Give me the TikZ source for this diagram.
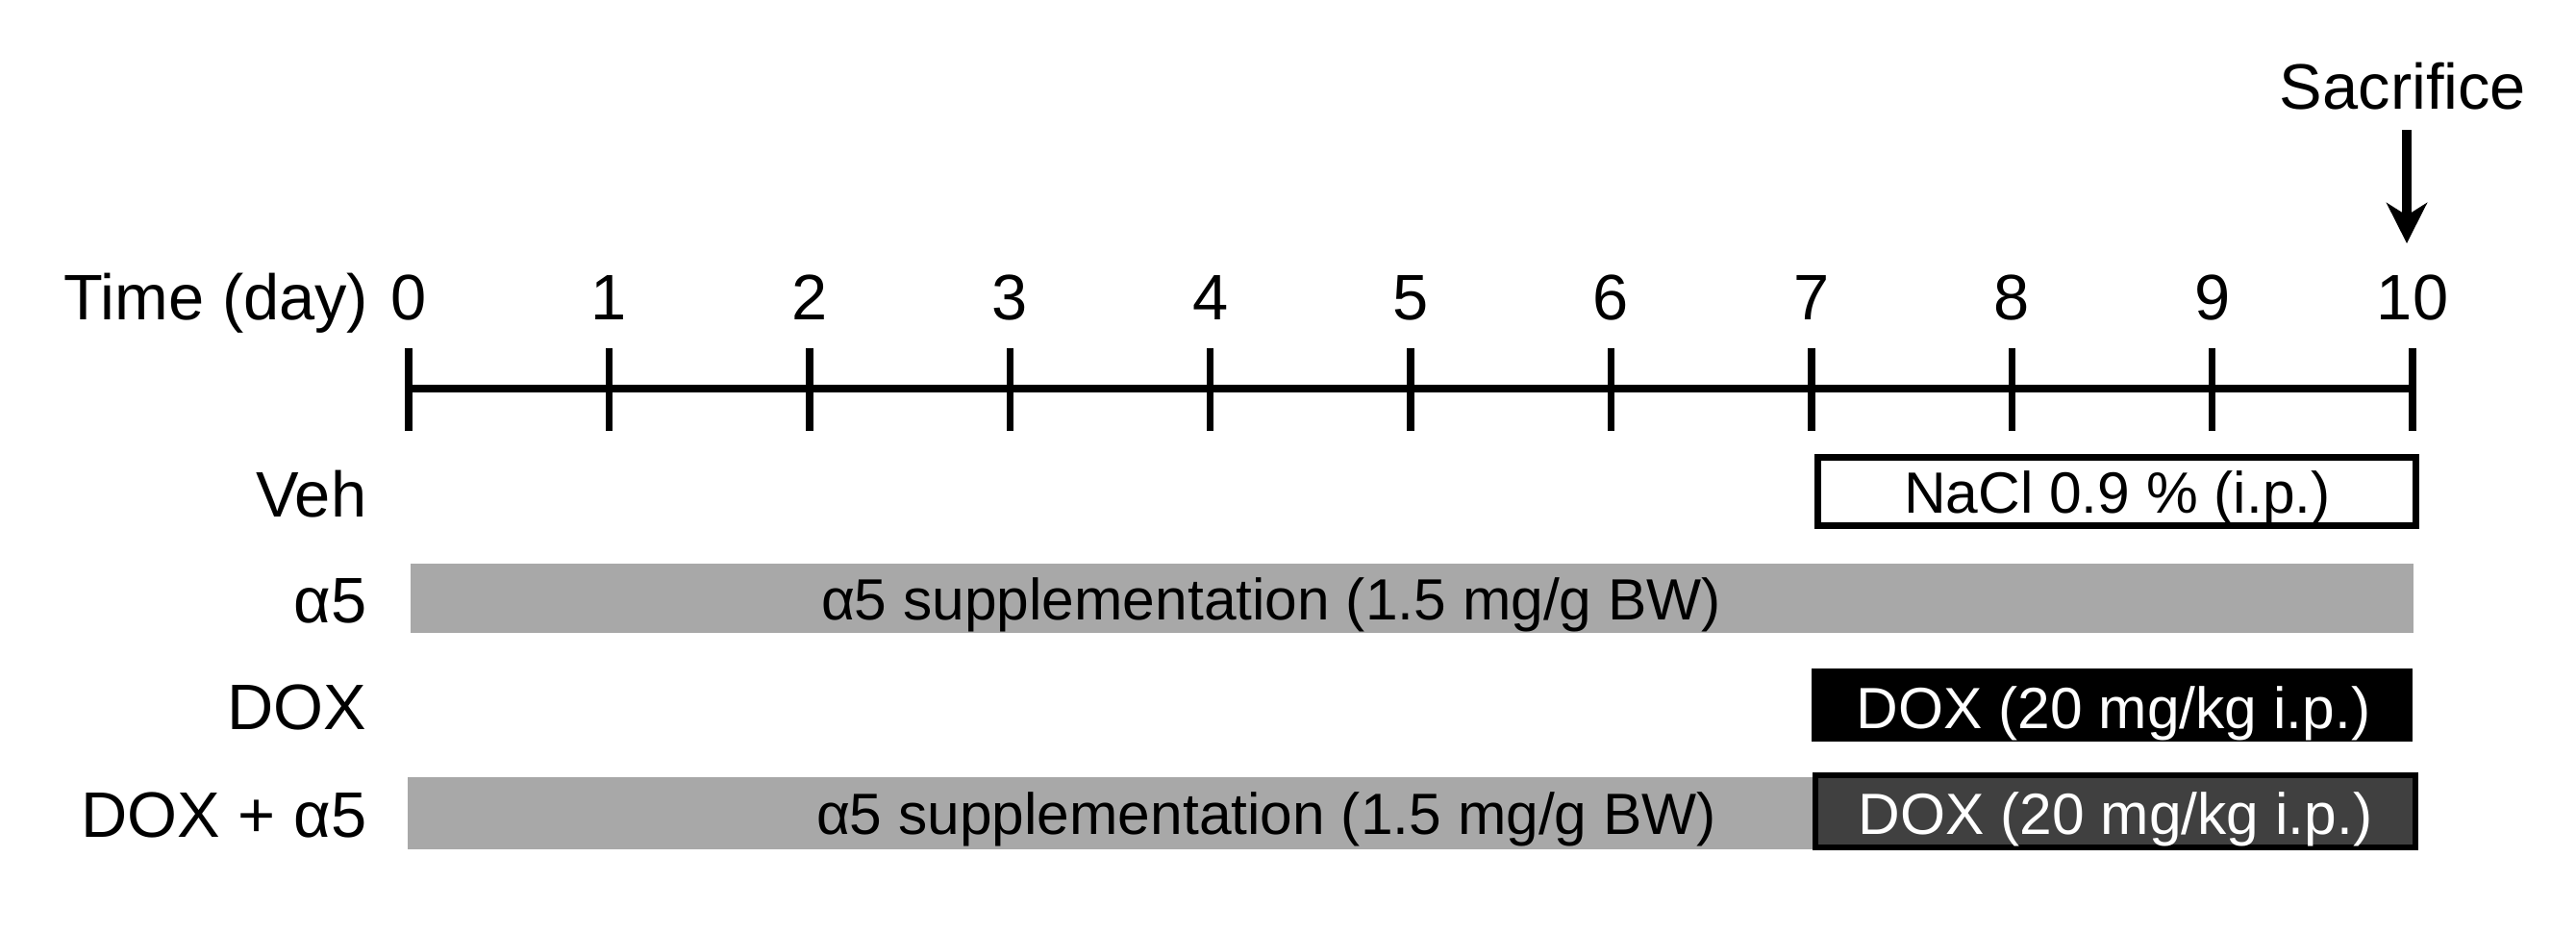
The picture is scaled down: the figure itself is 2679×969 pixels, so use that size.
\documentclass[tikz,border=0pt]{standalone}
\usepackage{fontspec}
\setmainfont{Liberation Sans}
\usetikzlibrary{arrows.meta}
\definecolor{barfill}{HTML}{A8A8A8}
\definecolor{darkfill}{HTML}{404040}
\begin{document}
\begin{tikzpicture}[x=0.01cm,y=-0.01cm,
  lab/.style={inner sep=0pt,font=\fontsize{19}{22}\selectfont},
  bartext/.style={inner sep=0pt,font=\fontsize{17.2}{20}\selectfont},
  axisline/.style={line width=2.4pt},
  tickline/.style={line width=2.1pt},
  arr/.style={line width=2.6pt,-{Stealth[length=0.42cm,width=0.42cm,inset=0.13cm]}},
  whitebox/.style={draw=black,fill=white,line width=2pt,inner sep=0pt},
  blackbox/.style={fill=black,inner sep=0pt},
  darkbox/.style={draw=black,fill=darkfill,line width=1.8pt,inner sep=0pt},
  graybar/.style={fill=barfill,inner sep=0pt}]
\useasboundingbox (0,0) rectangle (2679,969);
% header
\node[lab,anchor=base east] (time) at (384,332) {Time (day)};
\foreach \i in {0,...,10}{
  \coordinate (tt\i) at ({425+208.4*\i},362);
  \coordinate (tb\i) at ({425+208.4*\i},448);
  \coordinate (ta\i) at ({425+208.4*\i},404);
  \node[lab,anchor=base] (d\i) at ({425+208.4*\i},332) {\i};
  \draw[tickline] (tt\i) -- (tb\i);
}
\draw[axisline] (ta0) -- (ta10);
\node[lab,anchor=base] (sac) at (2499,113) {Sacrifice};
\coordinate (atop) at (2503,135);
\coordinate (atip) at (2503,253);
\draw[arr] (atop) -- (atip);
% row labels
\node[lab,anchor=base east] (lveh) at (382,537) {Veh};
\node[lab,anchor=base east] (la5) at (382,647) {α5};
\node[lab,anchor=base east] (ldox) at (382,758) {DOX};
\node[lab,anchor=base east] (ldoxa5) at (382,870) {DOX + α5};
% Veh
\node[whitebox,minimum width=6.22cm,minimum height=0.71cm] (veh) at (2201.5,511) {};
\node[bartext,anchor=base] (vehtxt) at (2202,533) {NaCl 0.9 \% (i.p.)};
% alpha5
\node[graybar,minimum width=20.81cm,minimum height=0.72cm] (a5bar) at (1468.5,622) {};
\node[bartext,anchor=base] (a5txt) at (1322,644) {α5 supplementation (1.5 mg/g BW)};
% DOX
\node[blackbox,minimum width=6.25cm,minimum height=0.76cm] (dox) at (2196.5,733) {};
\node[bartext,anchor=base,text=white] (doxtxt) at (2198,757) {DOX (20 mg/kg i.p.)};
% DOX + alpha5
\node[graybar,minimum width=14.61cm,minimum height=0.75cm] (da5bar) at (1154.5,845.5) {};
\node[bartext,anchor=base] (da5txt) at (1317,867) {α5 supplementation (1.5 mg/g BW)};
\node[darkbox,minimum width=6.24cm,minimum height=0.75cm] (ddox) at (2200,843.5) {};
\node[bartext,anchor=base,text=white] (ddoxtxt) at (2200,867) {DOX (20 mg/kg i.p.)};
\end{tikzpicture}
\end{document}
